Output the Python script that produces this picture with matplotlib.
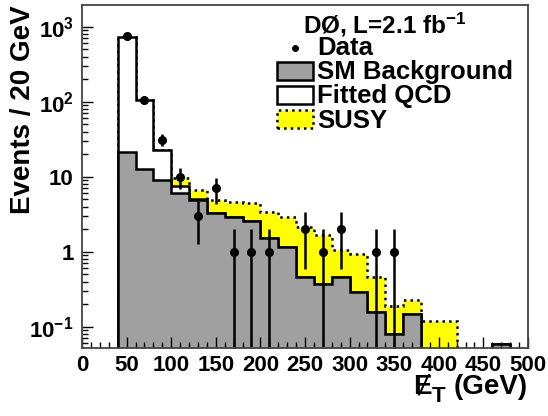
import numpy as np
import matplotlib
matplotlib.use('Agg')
import matplotlib.pyplot as plt
from matplotlib.patches import Rectangle
from matplotlib.ticker import FixedLocator, FixedFormatter, MultipleLocator

plt.rcParams['font.family'] = ['Liberation Sans', 'DejaVu Sans']
plt.rcParams['font.weight'] = 'bold'
plt.rcParams['mathtext.fontset'] = 'custom'
plt.rcParams['mathtext.rm'] = 'Liberation Sans:bold'
plt.rcParams['mathtext.bf'] = 'Liberation Sans:bold'
plt.rcParams['mathtext.it'] = 'Liberation Sans:bold'

# 20 GeV bins from 40 to 500 GeV
bin_lo = [40, 60, 80, 100, 120, 140, 160, 180, 200, 220, 240, 260,
          280, 300, 320, 340, 360, 380, 400, 420, 440, 460, 480]
sm_bkg = [21.5, 12.6, 9.0, 6.0, 4.9, 3.3, 2.9, 2.55, 1.5, 1.17, 0.46, 0.37,
          0.46, 0.29, 0.156, 0.079, 0.146, 0, 0, 0, 0, 0.058, 0]
qcd = [715, 92, 13.6, 1.5, 0.2, 0, 0, 0, 0, 0, 0, 0,
       0, 0, 0, 0, 0, 0, 0, 0, 0, 0, 0]
susy = [0.3, 0.4, 0.4, 2.0, 1.45, 1.6, 1.7, 1.95, 1.9, 1.76, 1.69, 1.3,
        0.59, 0.64, 0.30, 0.11, 0.081, 0.12, 0.12, 0, 0, 0, 0]
data = [760, 105, 31, 10, 3, 7, 1, 1, 1, 0, 2, 1,
        2, 0, 1, 1, 0, 0, 0, 0, 0, 0, 0]

x_ticks = [0, 50, 100, 150, 200, 250, 300, 350, 400, 450, 500]
y_ticks = [0.1, 1, 10, 100, 1000]
y_labels = [r'$\mathbf{10^{-1}}$', '1', '10', r'$\mathbf{10^{2}}$', r'$\mathbf{10^{3}}$']


def main():
    edges = np.array(bin_lo + [bin_lo[-1] + 20], dtype=float)
    centers = np.array(bin_lo) + 10
    sm = np.array(sm_bkg)
    sm_qcd = sm + np.array(qcd)
    total = sm_qcd + np.array(susy)
    floor = 1e-3  # below the visible range, keeps log scale happy

    fig = plt.figure(figsize=(5.48, 4.16), dpi=100)
    ax = fig.add_axes([0.1496, 0.1635, 0.8139, 0.8245])
    ax.set_yscale('log')

    lw = 1.8
    ax.stairs(np.maximum(total, floor), edges, baseline=floor, fill=True,
              facecolor='#ffff00', edgecolor='k', linestyle=':', linewidth=lw)
    ax.stairs(np.maximum(sm_qcd, floor), edges, baseline=floor, fill=True,
              facecolor='white', edgecolor='k', linewidth=lw)
    ax.stairs(np.maximum(sm, floor), edges, baseline=floor, fill=True,
              facecolor='#a0a0a0', edgecolor='k', linewidth=lw)

    d = np.array(data, dtype=float)
    m = d > 0
    ax.errorbar(centers[m], d[m], yerr=np.sqrt(d[m]), fmt='o', color='k',
                ms=5.5, elinewidth=1.8, capsize=0)

    ax.set_xlim(0, 500)
    ax.set_ylim(0.052, 1950)
    ax.xaxis.set_major_locator(FixedLocator(x_ticks))
    ax.xaxis.set_minor_locator(MultipleLocator(10))
    ax.yaxis.set_major_locator(FixedLocator(y_ticks))
    ax.yaxis.set_major_formatter(FixedFormatter(y_labels))
    ax.tick_params(which='both', direction='in', top=False, right=False,
                   labelsize=16)
    ax.tick_params(which='major', length=8, width=1.0)
    ax.tick_params(which='minor', length=4, width=1.0)
    ax.tick_params(axis='x', pad=5)
    ax.tick_params(axis='y', pad=6)
    for s in ax.spines.values():
        s.set_linewidth(1.3)
        s.set_color('#444444')

    # x title: missing E_T, built from pieces, right-aligned ROOT style
    t_gev = ax.text(1.0, -0.134, '(GeV)', transform=ax.transAxes,
                    ha='right', va='baseline', fontsize=20, fontweight='bold')
    t_t = ax.annotate('T', xy=(0, 0), xycoords=t_gev, xytext=(-6, -4.9),
                      textcoords='offset points', ha='right', va='bottom',
                      fontsize=16, fontweight='bold')
    ax.annotate('\u0246', xy=(0, 0), xycoords=t_t, xytext=(0, 4.9),
                textcoords='offset points', ha='right', va='bottom',
                fontsize=20, fontweight='bold')

    ax.set_ylabel('Events / 20 GeV', fontsize=20, fontweight='bold', loc='top')
    ax.yaxis.set_label_coords(-0.104, 1.0)

    # legend drawn by hand, ROOT style
    def px(xp, yp):
        return (xp - 82) / 446.0, (348 - yp) / 343.0

    hx, hy = px(385, 33)
    ax.text(hx, hy, r'DØ, L=2.1 fb$^{\mathbf{-1}}$', transform=ax.transAxes,
            ha='center', va='baseline', fontsize=17.5, fontweight='bold')
    tx = px(317, 0)[0]
    rows = [('Data', 55), ('SM Background', 79), ('Fitted QCD', 103), ('SUSY', 128)]
    for label, base in rows:
        ax.text(tx, px(0, base)[1], label, transform=ax.transAxes,
                ha='left', va='baseline', fontsize=18.5, fontweight='bold')
    dx, dy = px(295, 48)
    ax.plot([dx], [dy], 'o', color='k', ms=4, transform=ax.transAxes)
    boxes = [(62, '#a0a0a0', '-'), (86, 'white', '-'), (110, '#ffff00', ':')]
    for top, fc, ls in boxes:
        x0, y1 = px(277, top)
        x1, y0 = px(313, top + 18)
        ax.add_patch(Rectangle((x0, y0), x1 - x0, y1 - y0, transform=ax.transAxes,
                               facecolor=fc, edgecolor='k', linestyle=ls,
                               linewidth=1.8, clip_on=False))

    fig.savefig('out.png', dpi=100)


if __name__ == "__main__":
    main()
